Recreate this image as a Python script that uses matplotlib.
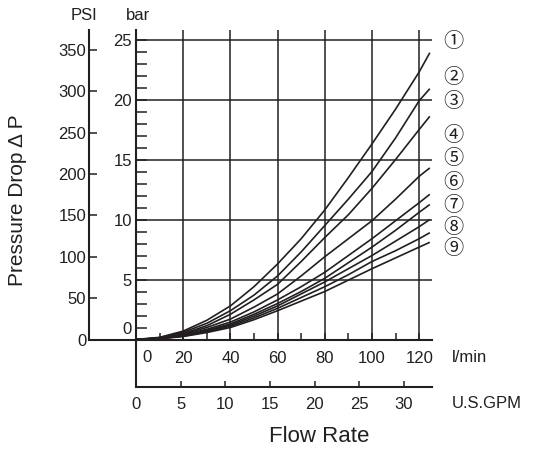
import matplotlib
matplotlib.use("Agg")
import matplotlib.pyplot as plt
from matplotlib.ticker import FixedLocator

plt.rcParams['font.family'] = ['Liberation Sans', 'DejaVu Sans']

# ---------------- data ----------------
flow_lpm = [0, 10, 20, 30, 40, 50, 60, 70, 80, 90, 100, 110, 120, 124.5]
curve_1 = [0, 0.18, 0.70, 1.60, 2.80, 4.40, 6.30, 8.40, 10.8, 13.5, 16.3, 19.2, 22.3, 23.9]
curve_2 = [0, 0.15, 0.60, 1.35, 2.40, 3.70, 5.30, 7.30, 9.50, 11.7, 14.0, 16.8, 19.9, 20.9]
curve_3 = [0, 0.13, 0.50, 1.15, 2.10, 3.30, 4.60, 6.50, 8.50, 10.4, 12.6, 15.0, 17.5, 18.6]
curve_4 = [0, 0.11, 0.45, 1.00, 1.70, 2.70, 3.80, 5.30, 6.90, 8.40, 9.90, 11.7, 13.6, 14.3]
curve_5 = [0, 0.10, 0.38, 0.85, 1.45, 2.30, 3.30, 4.40, 5.60, 7.00, 8.40, 9.90, 11.4, 12.1]
curve_6 = [0, 0.09, 0.34, 0.76, 1.30, 2.10, 3.00, 4.00, 5.10, 6.40, 7.70, 9.10, 10.6, 11.25]
curve_7 = [0, 0.08, 0.30, 0.70, 1.20, 1.95, 2.80, 3.80, 4.80, 5.90, 7.00, 8.20, 9.40, 10.0]
curve_8 = [0, 0.07, 0.28, 0.64, 1.10, 1.80, 2.60, 3.50, 4.40, 5.40, 6.50, 7.40, 8.40, 8.90]
curve_9 = [0, 0.06, 0.25, 0.58, 1.00, 1.65, 2.40, 3.20, 4.00, 4.95, 5.90, 6.80, 7.70, 8.10]
curves = [curve_1, curve_2, curve_3, curve_4, curve_5, curve_6, curve_7, curve_8, curve_9]
curve_labels = ['①', '②', '③', '④', '⑤', '⑥', '⑦', '⑧', '⑨']

psi_ticks = [0, 50, 100, 150, 200, 250, 300, 350]
bar_major = [5, 10, 15, 20, 25]
lpm_major = [20, 40, 60, 80, 100, 120]
lpm_minor = [10, 30, 50, 70, 90, 110]
gpm_ticks = [0, 5, 10, 15, 20, 25, 30]

PSI_PER_BAR = 14.5038
LPM_PER_GPM = 3.78541

# ---------------- layout (pixels) ----------------
W, H = 540, 451
INK = '#231f20'
def fx(px):
    return px / W
def fy(py):
    return 1 - py / H

PX_LPM = 2.36     # px per l/min
PX_BAR = 12.0     # px per bar
X_ZERO, Y_ZERO = 136, 339.5
X_LEFT, X_RIGHT, Y_TOP = 89, 432, 30
Y_GPM = 387

fig = plt.figure(figsize=(W / 100, H / 100), dpi=100)
ax = fig.add_axes([fx(X_LEFT), fy(Y_ZERO), (X_RIGHT - X_LEFT) / W, (Y_ZERO - Y_TOP) / H])
xmin = (X_LEFT - X_ZERO) / PX_LPM
xmax = (X_RIGHT - X_ZERO) / PX_LPM
ymax = (Y_ZERO - Y_TOP) / PX_BAR
ax.set_xlim(xmin, xmax)
ax.set_ylim(0, ymax)
ax.patch.set_visible(False)

for s in ['top', 'right']:
    ax.spines[s].set_visible(False)
ax.spines['left'].set_position(('data', 0))
ax.spines['left'].set_linewidth(1.5)
ax.spines['bottom'].set_linewidth(1.5)
ax.spines['left'].set_color(INK)
ax.spines['bottom'].set_color(INK)

# bar axis extension down to GPM axis
ax.plot([0, 0], [0, -(Y_GPM - Y_ZERO) / PX_BAR], color=INK, lw=1.5, clip_on=False,
        solid_capstyle='butt')

# grid
ax.vlines(lpm_major, 0, ymax, color=INK, lw=1.1)
ax.hlines(bar_major, 0, xmax, color=INK, lw=1.1)

# curves
for c in curves:
    ax.plot(flow_lpm, c, color=INK, lw=1.2, solid_capstyle='butt')

# circled labels
label_y_bar = [24.8, 21.8, 19.8, 17.0, 15.1, 13.1, 11.2, 9.3, 7.6]
label_x = (453 - X_ZERO) / PX_LPM
for lbl, yb in zip(curve_labels, label_y_bar):
    ax.text(label_x, yb, lbl, ha='center', va='center', fontsize=14.5,
            family=['Noto Sans CJK SC', 'DejaVu Sans'], color=INK, clip_on=False)

# bar ticks (left spine at x=0)
ax.yaxis.set_major_locator(FixedLocator([1] + bar_major))
ax.set_yticklabels(['0'] + [str(v) for v in bar_major])
ax.yaxis.set_minor_locator(FixedLocator([v for v in range(1, 25) if v % 5]))
ax.tick_params(axis='y', which='both', direction='in', length=8, width=1.1,
               color=INK, pad=3, labelsize=12, labelcolor=INK)

# l/min ticks
ax.xaxis.set_major_locator(FixedLocator(lpm_major))
ax.set_xticklabels([str(v) for v in lpm_major])
ax.xaxis.set_minor_locator(FixedLocator(lpm_minor))
ax.tick_params(axis='x', which='both', direction='in', length=5, width=1.1,
               color=INK, pad=8, labelsize=12, labelcolor=INK)
ax.annotate('0', xy=(0, 0), xycoords='data', xytext=(8, -12.6), textcoords='offset points',
            ha='center', va='center', fontsize=12, color=INK, annotation_clip=False)

# PSI axis
axp = ax.twinx()
axp.set_ylim(0, ymax * PSI_PER_BAR)
for s in ['top', 'right', 'bottom']:
    axp.spines[s].set_visible(False)
axp.spines['left'].set_linewidth(1.5)
axp.spines['left'].set_color(INK)
axp.yaxis.tick_left()
axp.set_yticks(psi_ticks)
axp.set_yticklabels([str(v) for v in psi_ticks])
axp.tick_params(axis='y', direction='in', length=5.5, width=1.1, color=INK, pad=2,
                labelsize=12, labelcolor=INK)

# GPM axis
axg = fig.add_axes([fx(X_ZERO), fy(Y_GPM), (X_RIGHT - X_ZERO) / W, 0.0001])
axg.set_xlim(0, xmax / LPM_PER_GPM)
axg.patch.set_visible(False)
for s in ['top', 'right', 'left']:
    axg.spines[s].set_visible(False)
axg.spines['bottom'].set_linewidth(1.5)
axg.spines['bottom'].set_color(INK)
axg.set_yticks([])
axg.set_xticks(gpm_ticks)
axg.set_xticklabels([str(v) for v in gpm_ticks])
axg.tick_params(axis='x', direction='in', length=4.5, width=1.1, color=INK, pad=7.5,
                labelsize=12, labelcolor=INK)

# texts
fig.text(fx(84), fy(16), 'PSI', ha='center', va='center', fontsize=12, color=INK)
fig.text(fx(138), fy(16), 'bar', ha='center', va='center', fontsize=12, color=INK)
fig.text(fx(452), fy(357), 'l/min', ha='left', va='center', fontsize=12, color=INK)
fig.text(fx(452), fy(403), 'U.S.GPM', ha='left', va='center', fontsize=12, color=INK)
fig.text(fx(319), fy(436), 'Flow Rate', ha='center', va='center', fontsize=16, color=INK)
fig.text(fx(18), fy(200), 'Pressure Drop Δ P', ha='center', va='center', rotation=90,
         fontsize=15, color=INK)

fig.savefig('out.png', dpi=100)
